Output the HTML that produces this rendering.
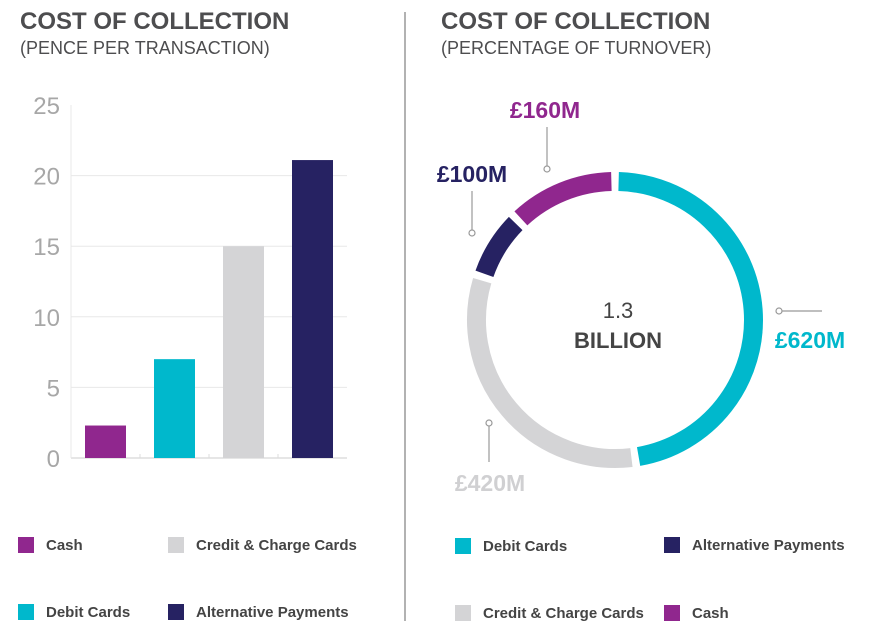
<!DOCTYPE html>
<html><head><meta charset="utf-8"><style>
body{margin:0;background:#fff;width:870px;height:637px;overflow:hidden;font-family:"Liberation Sans",sans-serif}
svg{display:block}
</style></head><body>
<svg id="c" width="870" height="637" viewBox="0 0 870 637">
<g fill="#4d4d4f" font-family="Liberation Sans, sans-serif">
<text x="20" y="29" font-size="24" font-weight="bold">COST OF COLLECTION</text>
<text x="20" y="54" font-size="18">(PENCE PER TRANSACTION)</text>
<text x="441" y="29" font-size="24" font-weight="bold">COST OF COLLECTION</text>
<text x="441" y="54" font-size="18">(PERCENTAGE OF TURNOVER)</text>
</g>
<line x1="405" y1="12" x2="405" y2="621" stroke="#999" stroke-width="1.5"/>
<g id="bar"></g>
<g id="donut"></g>
<g id="legend" font-family="Liberation Sans, sans-serif" font-size="15" font-weight="bold" fill="#444"></g>
</svg>
<script>
const barCats=["Cash","Debit Cards","Credit & Charge Cards","Alternative Payments"];
const barVals=[2.3,7.0,15.0,21.1];
const barColors=["#90278e","#00b8cc","#d4d4d6","#262262"];
const yTicks=[0,5,10,15,20,25];
const donutCats=["Debit Cards","Credit & Charge Cards","Alternative Payments","Cash"];
const donutVals=[620,420,100,160];
const donutLabels=["£620M","£420M","£100M","£160M"];
const donutColors=["#00b8cc","#d4d4d6","#262262","#90278e"];
const centerText=["1.3","BILLION"];
const NS="http://www.w3.org/2000/svg";
function mk(p,t,a){const e=document.createElementNS(NS,t);for(const k in a)e.setAttribute(k,a[k]);p.appendChild(e);return e;}
// bar chart
const bg=document.getElementById('bar');
const x0=71,x1=347,y0=458,yMax=25,yTop=105;
const y=v=>y0-(v/yMax)*(y0-yTop);
yTicks.forEach(t=>{
  if(t>0&&t<25){const l=mk(bg,'line',{x1:x0,x2:x1,y1:y(t),y2:y(t),stroke:'#e8e8e8','stroke-width':1});
  
  }
  const tx=mk(bg,'text',{x:60,y:y(t)+9,'text-anchor':'end','font-size':24,fill:'#a7a7a7','font-family':'Liberation Sans, sans-serif'});
  tx.textContent=t;
  
  
});
const ax=mk(bg,'line',{x1:x0,x2:x1,y1:y0,y2:y0,stroke:'#ddd','stroke-width':1.5});


const ay=mk(bg,'line',{x1:x0,x2:x0,y1:yTop,y2:y0,stroke:'#e8e8e8','stroke-width':1});


const band=(x1-x0)/barCats.length;
barCats.forEach((c,i)=>{
  if(i>0){const tk=mk(bg,'line',{x1:x0+band*i,x2:x0+band*i,y1:y0-4,y2:y0,stroke:'#ddd'});
  
  }
  const bx=x0+band*i+(band-41)/2;
  const r=mk(bg,'rect',{x:bx,y:y(barVals[i]),width:41,height:y0-y(barVals[i]),fill:barColors[i]});
  
  
});
// donut
const dg=document.getElementById('donut');
const cx=615,cy=320,R=138.5,W=19,gap=3;
const total=donutVals.reduce((a,b)=>a+b,0);
const pt=(a,r)=>[cx+r*Math.sin(a*Math.PI/180),cy-r*Math.cos(a*Math.PI/180)];
let acc=0;
const labelPos=[[810,348,'middle',[779,311,822,311]],[490,491,'middle',[489,423,489,462]],[472,182,'middle',[472,233,472,191]],[545,118,'middle',[547,169,547,127]]];
donutVals.forEach((v,i)=>{
  const a0=acc/total*360+gap/2, a1=(acc+v)/total*360-gap/2; acc+=v;
  const p0=pt(a0,R),p1=pt(a1,R);
  const arc=mk(dg,'path',{d:`M${p0[0]},${p0[1]} A${R},${R} 0 ${a1-a0>180?1:0} 1 ${p1[0]},${p1[1]}`,fill:'none',stroke:donutColors[i],'stroke-width':W});
  
  
  const lp=labelPos[i],L=lp[3];
  const ln=mk(dg,'line',{x1:L[0],y1:L[1],x2:L[2],y2:L[3],stroke:'#999','stroke-width':1.2});
  
  
  const ci=mk(dg,'circle',{cx:L[0],cy:L[1],r:3,fill:'#fff',stroke:'#999','stroke-width':1.2});
  
  
  const t=mk(dg,'text',{x:lp[0],y:lp[1],'text-anchor':lp[2],'font-size':23,'font-weight':'bold',fill:donutColors[i]==='#d4d4d6'?'#d0d0d2':donutColors[i],'font-family':'Liberation Sans, sans-serif'});
  t.textContent=donutLabels[i];
  
  
});
centerText.forEach((s,i)=>{
  const t=mk(dg,'text',{x:cx+3,y:i?348:318,'text-anchor':'middle','font-size':22,'font-weight':i?'bold':'normal',fill:'#444','font-family':'Liberation Sans, sans-serif'});
  t.textContent=s;
  
  
});
// legends
const lg=document.getElementById('legend');
const leg=[[18,545,"Cash","#90278e"],[168,545,"Credit & Charge Cards","#d4d4d6"],[18,612,"Debit Cards","#00b8cc"],[168,612,"Alternative Payments","#262262"],
[455,546,"Debit Cards","#00b8cc"],[664,545,"Alternative Payments","#262262"],[455,613,"Credit & Charge Cards","#d4d4d6"],[664,613,"Cash","#90278e"]];
leg.forEach(l=>{
  const r=mk(lg,'rect',{x:l[0],y:l[1]-8,width:16,height:16,fill:l[3]});
  
  
  const t=mk(lg,'text',{x:l[0]+28,y:l[1]+5});
  t.textContent=l[2];
  
  
});
</script>
</body></html>
